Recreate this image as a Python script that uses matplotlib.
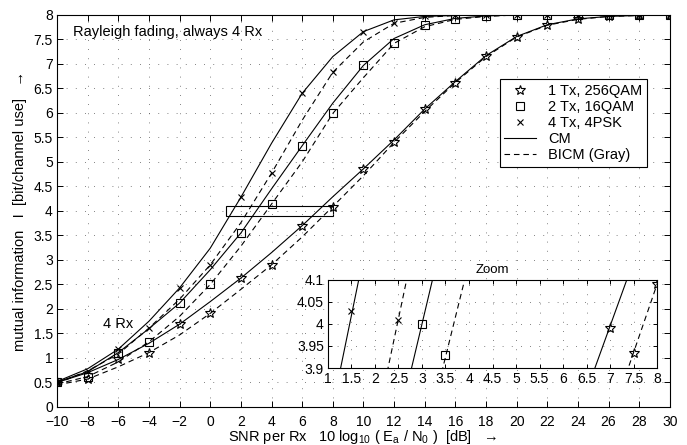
import matplotlib
matplotlib.use("Agg")
import matplotlib.pyplot as plt
from matplotlib.patches import Rectangle
from matplotlib.lines import Line2D

plt.rcParams['font.family'] = ['Liberation Sans', 'DejaVu Sans']
plt.rcParams['mathtext.default'] = 'regular'

# SNR per Rx in dB
snr_db = list(range(-10, 31, 2))

# mutual information [bit/channel use], CM (solid) and BICM Gray (dashed)
cm_256qam = [0.50, 0.70, 0.97, 1.30, 1.69, 2.15, 2.63, 3.15, 3.70, 4.29, 4.86,
             5.45, 6.08, 6.64, 7.17, 7.56, 7.80, 7.92, 7.97, 7.99, 8.00]
bicm_256qam = [0.45, 0.57, 0.82, 1.11, 1.47, 1.91, 2.40, 2.90, 3.47, 4.09, 4.72,
               5.40, 6.03, 6.62, 7.15, 7.55, 7.79, 7.91, 7.97, 7.99, 8.00]
cm_16qam = [0.51, 0.72, 1.11, 1.60, 2.12, 2.80, 3.55, 4.45, 5.33, 6.20, 6.97,
            7.52, 7.80, 7.93, 7.98, 8.00, 8.00, 8.00, 8.00, 8.00, 8.00]
bicm_16qam = [0.47, 0.62, 0.92, 1.33, 1.85, 2.50, 3.28, 4.14, 5.00, 5.99, 6.72,
              7.42, 7.76, 7.91, 7.97, 8.00, 8.00, 8.00, 8.00, 8.00, 8.00]
cm_4psk = [0.52, 0.78, 1.18, 1.75, 2.43, 3.24, 4.28, 5.38, 6.40, 7.15, 7.66,
           7.90, 7.97, 7.99, 8.00, 8.00, 8.00, 8.00, 8.00, 8.00, 8.00]
bicm_4psk = [0.48, 0.74, 1.08, 1.61, 2.20, 2.90, 3.76, 4.77, 5.85, 6.83, 7.45,
             7.83, 7.95, 7.99, 8.00, 8.00, 8.00, 8.00, 8.00, 8.00, 8.00]

# markers shown in the zoom window
zoom_snr_4psk = [1.5, 2.5]
zoom_mi_4psk = [4.03, 4.01]
zoom_snr_16qam = [3.0, 3.5]
zoom_mi_16qam = [4.00, 3.93]
zoom_snr_256qam = [7.0, 7.5, 8.0]
zoom_mi_256qam = [3.99, 3.935, 4.09]

labels = ['1 Tx, 256QAM', '2 Tx, 16QAM', '4 Tx, 4PSK']
markers = ['*', 's', 'x']
msizes = [7.5, 5.5, 5]

series = [(cm_256qam, bicm_256qam), (cm_16qam, bicm_16qam), (cm_4psk, bicm_4psk)]
dash = (5, 3.5)
grid_dash = (1, 10)

fig = plt.figure(figsize=(6.87, 4.45), dpi=100)
ax = fig.add_axes([0.083, 0.0854, 0.892, 0.881])

for (cm, bicm), mk, ms in zip(series, markers, msizes):
    ax.plot(snr_db, cm, color='k', lw=0.8)
    ax.plot(snr_db, bicm, color='k', lw=0.8, dashes=dash)
    # markers alternate between the CM and the BICM curve
    ax.plot(snr_db[0::2], cm[0::2], ls='none', marker=mk, ms=ms, mfc='none',
            mec='k', mew=0.8)
    ax.plot(snr_db[1::2], bicm[1::2], ls='none', marker=mk, ms=ms, mfc='none',
            mec='k', mew=0.8)

ax.add_patch(Rectangle((1, 3.9), 7, 0.2, fill=False, ec='k', lw=0.8))

ax.set_xlim(-10, 30)
ax.set_ylim(0, 8)
ax.set_xticks(range(-10, 31, 2))
ax.set_xticklabels([('\u2212%d' % -v) if v < 0 else '%d' % v for v in range(-10, 31, 2)])
yt = [i * 0.5 for i in range(17)]
ax.set_yticks(yt)
ax.set_yticklabels(['%g' % v for v in yt])
ax.tick_params(direction='in', top=True, right=True, length=4, width=0.7,
               labelsize=10)
ax.tick_params(axis='x', pad=6)
ax.tick_params(axis='y', pad=3)
ax.grid(True, color='0.35', lw=0.6, dashes=grid_dash)
for s in ax.spines.values():
    s.set_linewidth(0.8)

ax.text(-8.95, 7.65, 'Rayleigh fading, always 4 Rx', fontsize=10.5, va='center')
ax.text(-7.0, 1.69, '4 Rx', fontsize=10.5, va='center')

handles = [Line2D([], [], ls='none', marker=m, ms=s, mfc='none', mec='k', mew=0.8)
           for m, s in zip(markers, msizes)]
handles += [Line2D([], [], color='k', lw=0.8),
            Line2D([], [], color='k', lw=0.8, dashes=dash)]
leg = ax.legend(handles, labels + ['CM', 'BICM (Gray)'], loc='upper right',
                bbox_to_anchor=(0.962, 0.836), fontsize=10.5, frameon=True,
                fancybox=False, edgecolor='k', framealpha=1, borderpad=0.3,
                labelspacing=0.15, handlelength=2.2, handletextpad=0.8,
                borderaxespad=0)
leg.get_frame().set_linewidth(0.8)

fig.text(0.029, 0.526, 'mutual information   I  [bit/channel use]   \u2192',
         rotation=90, ha='center', va='center', fontsize=10.5)
fig.text(0.528, 0.018, 'SNR per Rx   10 log$_{10}$ ( E$_a$ / N$_0$ )  [dB]   \u2192',
         ha='center', va='center', fontsize=10.5)

# zoom window
ax2 = fig.add_axes([0.4774, 0.173, 0.479, 0.198])
for (cm, bicm) in series:
    ax2.plot(snr_db, cm, color='k', lw=0.8)
    ax2.plot(snr_db, bicm, color='k', lw=0.8, dashes=dash)
ax2.plot(zoom_snr_4psk, zoom_mi_4psk, ls='none', marker='x', ms=5, mec='k', mew=0.8)
ax2.plot(zoom_snr_16qam, zoom_mi_16qam, ls='none', marker='s', ms=5.5, mfc='none',
         mec='k', mew=0.8)
ax2.plot(zoom_snr_256qam, zoom_mi_256qam, ls='none', marker='*', ms=7.5, mfc='none',
         mec='k', mew=0.8)
ax2.set_xlim(1, 8)
ax2.set_ylim(3.9, 4.1)
zx = [1 + i * 0.5 for i in range(15)]
ax2.set_xticks(zx)
ax2.set_xticklabels(['%g' % v for v in zx])
zy = [3.9, 3.95, 4.0, 4.05, 4.1]
ax2.set_yticks(zy)
ax2.set_yticklabels(['%g' % v for v in zy])
ax2.tick_params(direction='in', top=True, right=True, length=3, width=0.7,
                labelsize=10, pad=3)
ax2.grid(True, color='0.35', lw=0.6, dashes=grid_dash)
for s in ax2.spines.values():
    s.set_linewidth(0.8)
ax2.set_title('Zoom', fontsize=9.5, pad=5)

fig.savefig('out.png', dpi=100)
